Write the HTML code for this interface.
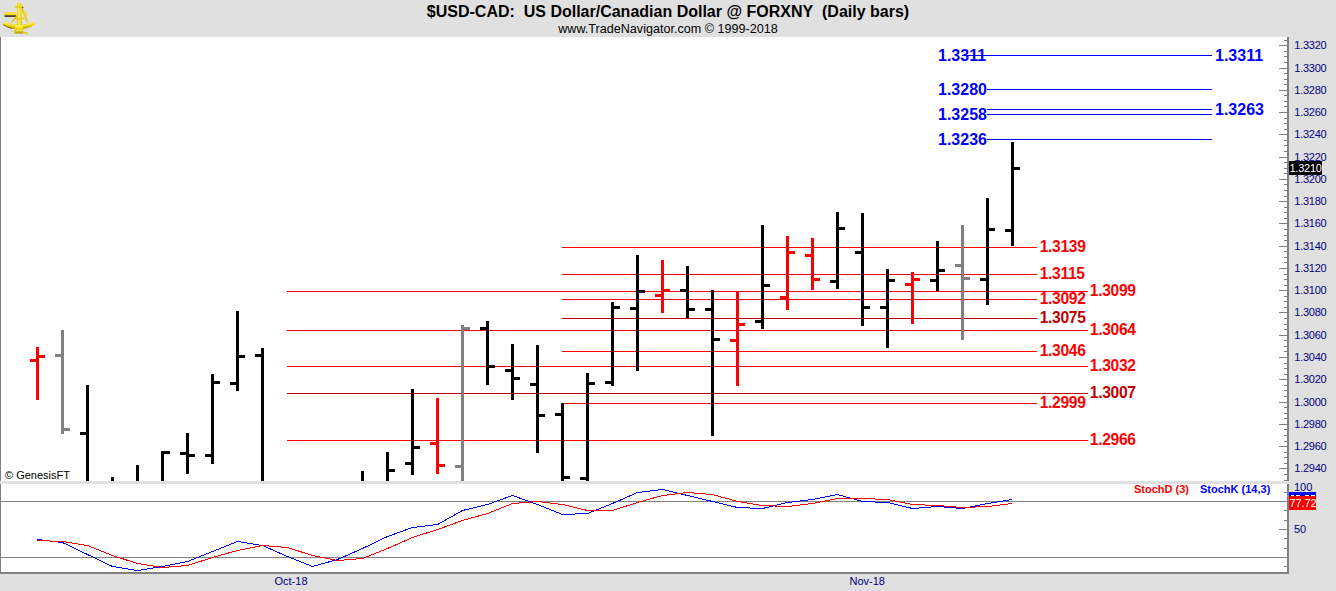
<!DOCTYPE html><html><head><meta charset="utf-8"><style>
html,body{margin:0;padding:0;background:#fff;width:1336px;height:591px;overflow:hidden}
svg{display:block}
text{font-family:"Liberation Sans",sans-serif}
</style></head><body>
<svg width="1336" height="591" viewBox="0 0 1336 591">
<rect x="0" y="0" width="1336" height="591" fill="#e0e0e0"/>
<rect x="0" y="37" width="1287" height="444" fill="#fff" shape-rendering="crispEdges"/>
<rect x="0" y="484" width="1287" height="88" fill="#fff" shape-rendering="crispEdges"/>
<g shape-rendering="crispEdges">
<rect x="0" y="37" width="1" height="444" fill="#808080"/>
<rect x="0" y="484" width="1" height="88" fill="#808080"/>
<rect x="1287" y="37" width="2" height="444" fill="#808080"/>
<rect x="1287" y="484" width="2" height="90" fill="#808080"/>
<rect x="0" y="572" width="1289" height="2" fill="#808080"/>
<rect x="1" y="501" width="1286" height="1" fill="#808080"/>
<rect x="1" y="557" width="1286" height="1" fill="#808080"/>
<rect x="1284" y="40" width="3" height="1" fill="#808080"/>
<rect x="1279" y="45" width="8" height="1" fill="#808080"/>
<rect x="1284" y="51" width="3" height="1" fill="#808080"/>
<rect x="1284" y="56" width="3" height="1" fill="#808080"/>
<rect x="1284" y="62" width="3" height="1" fill="#808080"/>
<rect x="1279" y="68" width="8" height="1" fill="#808080"/>
<rect x="1284" y="73" width="3" height="1" fill="#808080"/>
<rect x="1284" y="79" width="3" height="1" fill="#808080"/>
<rect x="1284" y="84" width="3" height="1" fill="#808080"/>
<rect x="1279" y="90" width="8" height="1" fill="#808080"/>
<rect x="1284" y="95" width="3" height="1" fill="#808080"/>
<rect x="1284" y="101" width="3" height="1" fill="#808080"/>
<rect x="1284" y="106" width="3" height="1" fill="#808080"/>
<rect x="1279" y="112" width="8" height="1" fill="#808080"/>
<rect x="1284" y="118" width="3" height="1" fill="#808080"/>
<rect x="1284" y="123" width="3" height="1" fill="#808080"/>
<rect x="1284" y="129" width="3" height="1" fill="#808080"/>
<rect x="1279" y="134" width="8" height="1" fill="#808080"/>
<rect x="1284" y="140" width="3" height="1" fill="#808080"/>
<rect x="1284" y="145" width="3" height="1" fill="#808080"/>
<rect x="1284" y="151" width="3" height="1" fill="#808080"/>
<rect x="1279" y="157" width="8" height="1" fill="#808080"/>
<rect x="1284" y="162" width="3" height="1" fill="#808080"/>
<rect x="1284" y="168" width="3" height="1" fill="#808080"/>
<rect x="1284" y="173" width="3" height="1" fill="#808080"/>
<rect x="1279" y="179" width="8" height="1" fill="#808080"/>
<rect x="1284" y="184" width="3" height="1" fill="#808080"/>
<rect x="1284" y="190" width="3" height="1" fill="#808080"/>
<rect x="1284" y="196" width="3" height="1" fill="#808080"/>
<rect x="1279" y="201" width="8" height="1" fill="#808080"/>
<rect x="1284" y="207" width="3" height="1" fill="#808080"/>
<rect x="1284" y="212" width="3" height="1" fill="#808080"/>
<rect x="1284" y="218" width="3" height="1" fill="#808080"/>
<rect x="1279" y="223" width="8" height="1" fill="#808080"/>
<rect x="1284" y="229" width="3" height="1" fill="#808080"/>
<rect x="1284" y="235" width="3" height="1" fill="#808080"/>
<rect x="1284" y="240" width="3" height="1" fill="#808080"/>
<rect x="1279" y="246" width="8" height="1" fill="#808080"/>
<rect x="1284" y="251" width="3" height="1" fill="#808080"/>
<rect x="1284" y="257" width="3" height="1" fill="#808080"/>
<rect x="1284" y="262" width="3" height="1" fill="#808080"/>
<rect x="1279" y="268" width="8" height="1" fill="#808080"/>
<rect x="1284" y="274" width="3" height="1" fill="#808080"/>
<rect x="1284" y="279" width="3" height="1" fill="#808080"/>
<rect x="1284" y="285" width="3" height="1" fill="#808080"/>
<rect x="1279" y="290" width="8" height="1" fill="#808080"/>
<rect x="1284" y="296" width="3" height="1" fill="#808080"/>
<rect x="1284" y="301" width="3" height="1" fill="#808080"/>
<rect x="1284" y="307" width="3" height="1" fill="#808080"/>
<rect x="1279" y="312" width="8" height="1" fill="#808080"/>
<rect x="1284" y="318" width="3" height="1" fill="#808080"/>
<rect x="1284" y="324" width="3" height="1" fill="#808080"/>
<rect x="1284" y="329" width="3" height="1" fill="#808080"/>
<rect x="1279" y="335" width="8" height="1" fill="#808080"/>
<rect x="1284" y="340" width="3" height="1" fill="#808080"/>
<rect x="1284" y="346" width="3" height="1" fill="#808080"/>
<rect x="1284" y="351" width="3" height="1" fill="#808080"/>
<rect x="1279" y="357" width="8" height="1" fill="#808080"/>
<rect x="1284" y="363" width="3" height="1" fill="#808080"/>
<rect x="1284" y="368" width="3" height="1" fill="#808080"/>
<rect x="1284" y="374" width="3" height="1" fill="#808080"/>
<rect x="1279" y="379" width="8" height="1" fill="#808080"/>
<rect x="1284" y="385" width="3" height="1" fill="#808080"/>
<rect x="1284" y="390" width="3" height="1" fill="#808080"/>
<rect x="1284" y="396" width="3" height="1" fill="#808080"/>
<rect x="1279" y="402" width="8" height="1" fill="#808080"/>
<rect x="1284" y="407" width="3" height="1" fill="#808080"/>
<rect x="1284" y="413" width="3" height="1" fill="#808080"/>
<rect x="1284" y="418" width="3" height="1" fill="#808080"/>
<rect x="1279" y="424" width="8" height="1" fill="#808080"/>
<rect x="1284" y="429" width="3" height="1" fill="#808080"/>
<rect x="1284" y="435" width="3" height="1" fill="#808080"/>
<rect x="1284" y="441" width="3" height="1" fill="#808080"/>
<rect x="1279" y="446" width="8" height="1" fill="#808080"/>
<rect x="1284" y="452" width="3" height="1" fill="#808080"/>
<rect x="1284" y="457" width="3" height="1" fill="#808080"/>
<rect x="1284" y="463" width="3" height="1" fill="#808080"/>
<rect x="1279" y="468" width="8" height="1" fill="#808080"/>
<rect x="1284" y="474" width="3" height="1" fill="#808080"/>
<rect x="1284" y="480" width="3" height="1" fill="#808080"/>
<rect x="1284" y="492" width="3" height="1" fill="#808080"/>
<rect x="1284" y="510" width="3" height="1" fill="#808080"/>
<rect x="1284" y="520" width="3" height="1" fill="#808080"/>
<rect x="1284" y="538" width="3" height="1" fill="#808080"/>
<rect x="1284" y="548" width="3" height="1" fill="#808080"/>
<rect x="1284" y="566" width="3" height="1" fill="#808080"/>
<rect x="1279" y="529" width="8" height="1" fill="#808080"/>
<rect x="562" y="247" width="475" height="1" fill="#ff0000"/>
<rect x="562" y="274" width="475" height="1" fill="#ff0000"/>
<rect x="562" y="299" width="475" height="1" fill="#ff0000"/>
<rect x="562" y="318" width="475" height="1" fill="#c00000"/>
<rect x="562" y="351" width="475" height="1" fill="#ff0000"/>
<rect x="562" y="403" width="475" height="1" fill="#ff0000"/>
<rect x="287" y="291" width="801" height="1" fill="#ff0000"/>
<rect x="287" y="330" width="801" height="1" fill="#ff0000"/>
<rect x="287" y="366" width="801" height="1" fill="#ff0000"/>
<rect x="287" y="393" width="801" height="1" fill="#c00000"/>
<rect x="287" y="440" width="801" height="1" fill="#ff0000"/>
<rect x="962" y="55" width="250" height="1" fill="#0000ff"/>
<rect x="987" y="89" width="225" height="1" fill="#0000ff"/>
<rect x="987" y="109" width="225" height="1" fill="#0000ff"/>
<rect x="987" y="114" width="225" height="1" fill="#0000ff"/>
<rect x="987" y="139" width="225" height="1" fill="#0000ff"/>
<rect x="36" y="347" width="3" height="53" fill="#ff0000"/>
<rect x="30" y="359" width="6" height="3" fill="#ff0000"/>
<rect x="39" y="355" width="6" height="3" fill="#ff0000"/>
<rect x="61" y="330" width="3" height="104" fill="#808080"/>
<rect x="55" y="354" width="6" height="3" fill="#808080"/>
<rect x="64" y="428" width="6" height="3" fill="#808080"/>
<rect x="86" y="385" width="3" height="96" fill="#000000"/>
<rect x="80" y="432" width="6" height="3" fill="#000000"/>
<rect x="111" y="477" width="3" height="4" fill="#000000"/>
<rect x="136" y="465" width="3" height="16" fill="#000000"/>
<rect x="161" y="451" width="3" height="30" fill="#000000"/>
<rect x="164" y="451" width="6" height="3" fill="#000000"/>
<rect x="186" y="433" width="3" height="41" fill="#000000"/>
<rect x="180" y="452" width="6" height="3" fill="#000000"/>
<rect x="189" y="454" width="6" height="3" fill="#000000"/>
<rect x="211" y="374" width="3" height="90" fill="#000000"/>
<rect x="205" y="454" width="6" height="3" fill="#000000"/>
<rect x="214" y="381" width="6" height="3" fill="#000000"/>
<rect x="236" y="311" width="3" height="80" fill="#000000"/>
<rect x="230" y="382" width="6" height="3" fill="#000000"/>
<rect x="239" y="355" width="6" height="3" fill="#000000"/>
<rect x="261" y="348" width="3" height="133" fill="#000000"/>
<rect x="255" y="354" width="6" height="3" fill="#000000"/>
<rect x="361" y="471" width="3" height="10" fill="#000000"/>
<rect x="386" y="452" width="3" height="29" fill="#000000"/>
<rect x="389" y="469" width="6" height="3" fill="#000000"/>
<rect x="411" y="389" width="3" height="86" fill="#000000"/>
<rect x="405" y="462" width="6" height="3" fill="#000000"/>
<rect x="414" y="446" width="6" height="3" fill="#000000"/>
<rect x="436" y="398" width="3" height="76" fill="#ff0000"/>
<rect x="430" y="442" width="6" height="3" fill="#ff0000"/>
<rect x="439" y="464" width="6" height="3" fill="#ff0000"/>
<rect x="461" y="325" width="3" height="156" fill="#808080"/>
<rect x="455" y="465" width="6" height="3" fill="#808080"/>
<rect x="464" y="327" width="6" height="3" fill="#808080"/>
<rect x="486" y="321" width="3" height="64" fill="#000000"/>
<rect x="480" y="327" width="6" height="3" fill="#000000"/>
<rect x="489" y="365" width="6" height="3" fill="#000000"/>
<rect x="511" y="344" width="3" height="56" fill="#000000"/>
<rect x="505" y="369" width="6" height="3" fill="#000000"/>
<rect x="514" y="377" width="6" height="3" fill="#000000"/>
<rect x="536" y="345" width="3" height="108" fill="#000000"/>
<rect x="530" y="383" width="6" height="3" fill="#000000"/>
<rect x="539" y="414" width="6" height="3" fill="#000000"/>
<rect x="561" y="403" width="3" height="78" fill="#000000"/>
<rect x="555" y="413" width="6" height="3" fill="#000000"/>
<rect x="564" y="476" width="6" height="3" fill="#000000"/>
<rect x="586" y="373" width="3" height="108" fill="#000000"/>
<rect x="580" y="477" width="6" height="3" fill="#000000"/>
<rect x="589" y="382" width="6" height="3" fill="#000000"/>
<rect x="611" y="302" width="3" height="84" fill="#000000"/>
<rect x="605" y="381" width="6" height="3" fill="#000000"/>
<rect x="614" y="306" width="6" height="3" fill="#000000"/>
<rect x="636" y="255" width="3" height="116" fill="#000000"/>
<rect x="630" y="307" width="6" height="3" fill="#000000"/>
<rect x="639" y="290" width="6" height="3" fill="#000000"/>
<rect x="661" y="260" width="3" height="53" fill="#ff0000"/>
<rect x="655" y="294" width="6" height="3" fill="#ff0000"/>
<rect x="664" y="289" width="6" height="3" fill="#ff0000"/>
<rect x="686" y="266" width="3" height="52" fill="#000000"/>
<rect x="680" y="289" width="6" height="3" fill="#000000"/>
<rect x="689" y="308" width="6" height="3" fill="#000000"/>
<rect x="711" y="290" width="3" height="146" fill="#000000"/>
<rect x="705" y="308" width="6" height="3" fill="#000000"/>
<rect x="714" y="338" width="6" height="3" fill="#000000"/>
<rect x="736" y="291" width="3" height="95" fill="#ff0000"/>
<rect x="730" y="339" width="6" height="3" fill="#ff0000"/>
<rect x="739" y="323" width="6" height="3" fill="#ff0000"/>
<rect x="761" y="225" width="3" height="104" fill="#000000"/>
<rect x="755" y="320" width="6" height="3" fill="#000000"/>
<rect x="764" y="284" width="6" height="3" fill="#000000"/>
<rect x="786" y="236" width="3" height="74" fill="#ff0000"/>
<rect x="780" y="296" width="6" height="3" fill="#ff0000"/>
<rect x="789" y="251" width="6" height="3" fill="#ff0000"/>
<rect x="811" y="238" width="3" height="52" fill="#ff0000"/>
<rect x="805" y="254" width="6" height="3" fill="#ff0000"/>
<rect x="814" y="278" width="6" height="3" fill="#ff0000"/>
<rect x="836" y="212" width="3" height="77" fill="#000000"/>
<rect x="830" y="280" width="6" height="3" fill="#000000"/>
<rect x="839" y="227" width="6" height="3" fill="#000000"/>
<rect x="861" y="213" width="3" height="113" fill="#000000"/>
<rect x="855" y="251" width="6" height="3" fill="#000000"/>
<rect x="864" y="306" width="6" height="3" fill="#000000"/>
<rect x="886" y="269" width="3" height="79" fill="#000000"/>
<rect x="880" y="306" width="6" height="3" fill="#000000"/>
<rect x="889" y="279" width="6" height="3" fill="#000000"/>
<rect x="911" y="272" width="3" height="52" fill="#ff0000"/>
<rect x="905" y="283" width="6" height="3" fill="#ff0000"/>
<rect x="914" y="278" width="6" height="3" fill="#ff0000"/>
<rect x="936" y="241" width="3" height="50" fill="#000000"/>
<rect x="930" y="279" width="6" height="3" fill="#000000"/>
<rect x="939" y="269" width="6" height="3" fill="#000000"/>
<rect x="961" y="225" width="3" height="115" fill="#808080"/>
<rect x="955" y="264" width="6" height="3" fill="#808080"/>
<rect x="964" y="277" width="6" height="3" fill="#808080"/>
<rect x="986" y="198" width="3" height="107" fill="#000000"/>
<rect x="980" y="278" width="6" height="3" fill="#000000"/>
<rect x="989" y="228" width="6" height="3" fill="#000000"/>
<rect x="1011" y="142" width="3" height="104" fill="#000000"/>
<rect x="1005" y="229" width="6" height="3" fill="#000000"/>
<rect x="1014" y="167" width="6" height="3" fill="#000000"/>
</g>
<polyline points="37.5,539.5 62.5,542.5 87.5,554.5 112.5,566.5 137.5,570.5 162.5,566.5 187.5,561.5 212.5,551.5 237.5,541.5 262.5,545.5 287.5,556.5 312.5,566.5 337.5,559.5 362.5,548.5 387.5,536.5 412.5,527.5 437.5,524.5 462.5,510.5 487.5,504.5 512.5,495.5 537.5,504.5 562.5,514.5 587.5,513.5 612.5,503.5 637.5,492.5 662.5,489.5 687.5,495.5 712.5,501.5 737.5,507.5 762.5,508.5 787.5,502.5 812.5,499.5 837.5,494.5 862.5,501.5 887.5,502.5 912.5,508.5 937.5,506.5 962.5,508.5 987.5,503.5 1012.5,499.5" fill="none" stroke="#0000ff" stroke-width="1" shape-rendering="crispEdges"/>
<polyline points="37.5,540.5 62.5,541.5 87.5,545.5 112.5,555.5 137.5,563.5 162.5,567.5 187.5,565.5 212.5,557.5 237.5,550.5 262.5,545.5 287.5,547.5 312.5,555.5 337.5,560.5 362.5,558.5 387.5,548.5 412.5,537.5 437.5,529.5 462.5,520.5 487.5,513.5 512.5,503.5 537.5,501.5 562.5,504.5 587.5,510.5 612.5,510.5 637.5,502.5 662.5,495.5 687.5,492.5 712.5,494.5 737.5,501.5 762.5,505.5 787.5,506.5 812.5,503.5 837.5,498.5 862.5,498.5 887.5,499.5 912.5,504.5 937.5,505.5 962.5,507.5 987.5,506.5 1012.5,503.5" fill="none" stroke="#ff0000" stroke-width="1" shape-rendering="crispEdges"/>
<text x="1294.3" y="49" font-size="11" letter-spacing="-0.25" fill="#000080">1.3320</text>
<text x="1294.3" y="72" font-size="11" letter-spacing="-0.25" fill="#000080">1.3300</text>
<text x="1294.3" y="94" font-size="11" letter-spacing="-0.25" fill="#000080">1.3280</text>
<text x="1294.3" y="116" font-size="11" letter-spacing="-0.25" fill="#000080">1.3260</text>
<text x="1294.3" y="138" font-size="11" letter-spacing="-0.25" fill="#000080">1.3240</text>
<text x="1294.3" y="161" font-size="11" letter-spacing="-0.25" fill="#000080">1.3220</text>
<text x="1294.3" y="183" font-size="11" letter-spacing="-0.25" fill="#000080">1.3200</text>
<text x="1294.3" y="205" font-size="11" letter-spacing="-0.25" fill="#000080">1.3180</text>
<text x="1294.3" y="227" font-size="11" letter-spacing="-0.25" fill="#000080">1.3160</text>
<text x="1294.3" y="250" font-size="11" letter-spacing="-0.25" fill="#000080">1.3140</text>
<text x="1294.3" y="272" font-size="11" letter-spacing="-0.25" fill="#000080">1.3120</text>
<text x="1294.3" y="294" font-size="11" letter-spacing="-0.25" fill="#000080">1.3100</text>
<text x="1294.3" y="316" font-size="11" letter-spacing="-0.25" fill="#000080">1.3080</text>
<text x="1294.3" y="339" font-size="11" letter-spacing="-0.25" fill="#000080">1.3060</text>
<text x="1294.3" y="361" font-size="11" letter-spacing="-0.25" fill="#000080">1.3040</text>
<text x="1294.3" y="383" font-size="11" letter-spacing="-0.25" fill="#000080">1.3020</text>
<text x="1294.3" y="406" font-size="11" letter-spacing="-0.25" fill="#000080">1.3000</text>
<text x="1294.3" y="428" font-size="11" letter-spacing="-0.25" fill="#000080">1.2980</text>
<text x="1294.3" y="450" font-size="11" letter-spacing="-0.25" fill="#000080">1.2960</text>
<text x="1294.3" y="472" font-size="11" letter-spacing="-0.25" fill="#000080">1.2940</text>
<rect x="1289" y="161" width="33" height="14" fill="#000" shape-rendering="crispEdges"/>
<text x="1289.5" y="172" font-size="11" letter-spacing="-0.25" fill="#fff">1.3210</text>
<text x="1294" y="491" font-size="11" fill="#000080">100</text>
<text x="1294" y="533" font-size="11" fill="#000080">50</text>
<rect x="1289" y="492" width="27" height="4" fill="#0000ff" shape-rendering="crispEdges"/>
<g fill="#fff" shape-rendering="crispEdges"><rect x="1291" y="495" width="3" height="1"/><rect x="1296" y="495" width="4" height="1"/><rect x="1305" y="495" width="4" height="1"/><rect x="1311" y="495" width="4" height="1"/></g>
<rect x="1289" y="496" width="27" height="14" fill="#ff0000" shape-rendering="crispEdges"/>
<text x="1289.5" y="507" font-size="11" letter-spacing="-0.1" fill="#fff">77.72</text>
<text x="1039.7" y="252" font-size="15.6" letter-spacing="-0.3" font-weight="bold" fill="#ff0000">1.3139</text>
<text x="1039.7" y="279" font-size="15.6" letter-spacing="-0.3" font-weight="bold" fill="#ff0000">1.3115</text>
<text x="1039.7" y="304" font-size="15.6" letter-spacing="-0.3" font-weight="bold" fill="#ff0000">1.3092</text>
<text x="1039.7" y="323" font-size="15.6" letter-spacing="-0.3" font-weight="bold" fill="#c00000">1.3075</text>
<text x="1039.7" y="356" font-size="15.6" letter-spacing="-0.3" font-weight="bold" fill="#ff0000">1.3046</text>
<text x="1039.7" y="408" font-size="15.6" letter-spacing="-0.3" font-weight="bold" fill="#ff0000">1.2999</text>
<text x="1089.8" y="296" font-size="15.6" letter-spacing="-0.3" font-weight="bold" fill="#ff0000">1.3099</text>
<text x="1089.8" y="335" font-size="15.6" letter-spacing="-0.3" font-weight="bold" fill="#ff0000">1.3064</text>
<text x="1089.8" y="371" font-size="15.6" letter-spacing="-0.3" font-weight="bold" fill="#ff0000">1.3032</text>
<text x="1089.8" y="398" font-size="15.6" letter-spacing="-0.3" font-weight="bold" fill="#c00000">1.3007</text>
<text x="1089.8" y="445" font-size="15.6" letter-spacing="-0.3" font-weight="bold" fill="#ff0000">1.2966</text>
<text x="938" y="61" font-size="16" font-weight="bold" fill="#0000ff">1.3311</text>
<text x="938" y="95" font-size="16" font-weight="bold" fill="#0000ff">1.3280</text>
<text x="938" y="120" font-size="16" font-weight="bold" fill="#0000ff">1.3258</text>
<text x="938" y="145" font-size="16" font-weight="bold" fill="#0000ff">1.3236</text>
<text x="1215" y="61" font-size="16" font-weight="bold" fill="#0000ff">1.3311</text>
<text x="1215" y="115" font-size="16" font-weight="bold" fill="#0000ff">1.3263</text>
<text x="1134" y="493" font-size="11" font-weight="bold" fill="#ff0000">StochD (3)</text>
<text x="1200" y="493" font-size="11" font-weight="bold" fill="#0000ff">StochK (14,3)</text>
<text x="5" y="479" font-size="11" fill="#000">© GenesisFT</text>
<text x="274.5" y="585" font-size="11" fill="#000080">Oct-18</text>
<text x="849.5" y="585" font-size="11" fill="#000080">Nov-18</text>
<text x="668" y="17" font-size="16" font-weight="bold" fill="#000" text-anchor="middle" xml:space="preserve">$USD-CAD:&#160; US Dollar/Canadian Dollar @ FORXNY&#160; (Daily bars)</text>
<text x="668" y="33" font-size="12.6" fill="#000" text-anchor="middle">www.TradeNavigator.com © 1999-2018</text>
<defs><linearGradient id="gv" x1="0" y1="0" x2="0" y2="1"><stop offset="0" stop-color="#fff27a"/><stop offset="0.45" stop-color="#f2d600"/><stop offset="1" stop-color="#b89a00"/></linearGradient>
<linearGradient id="gh" x1="0" y1="0" x2="1" y2="0"><stop offset="0" stop-color="#d8b800"/><stop offset="0.4" stop-color="#fff06a"/><stop offset="1" stop-color="#e0c000"/></linearGradient></defs>
<g id="logo">
<path d="M2.8,24.8 Q19,34.5 35.2,24.4 L33.6,21.2 Q19,28 4.6,21.6 Z" fill="url(#gv)"/><path d="M5.5,23.2 Q19,29.6 32.8,22.8" fill="none" stroke="#fff4a0" stroke-width="0.8" opacity="0.8"/>
<path d="M3.2,24.6 Q8,27.6 12,28.6" fill="none" stroke="#4a3a00" stroke-width="0.9" opacity="0.7"/>
<path d="M4.4,11.9 L15.6,11.9 L15.6,15.6 L4.4,15.6 Q3.8,13.8 4.4,11.9 Z" fill="#ecd200"/><rect x="5" y="12.6" width="10" height="1.2" fill="#fff4a0" opacity="0.8"/>
<path d="M4.5,15.2 L16,15.2 L16,16.9 L4.7,16.9 Z" fill="#2a2200" opacity="0.85"/>
<path d="M11,22 L16.8,14.8 L18,15.8 L12.4,22.8 Z" fill="#e6c800"/>
<path d="M21.2,8.6 L22.8,8.2 L28.2,21.4 L26.6,22 Z" fill="#e6c800"/>
<path d="M23.6,12.2 L26,11.4 L27.6,17.6 L25.2,18.2 Z" fill="#f4da20"/>
<path d="M17.1,7.2 L21.6,7.2 L22,26.2 L16.8,26.2 Z" fill="url(#gh)"/>
<path d="M15.2,5.9 L23,5.9 L23.2,7.8 L15,7.8 Z" fill="#e8cc00"/>
<path d="M22.2,6.6 L23.6,7.6 L22.6,8.6 Z" fill="#222"/>
<ellipse cx="19.2" cy="4.6" rx="2.8" ry="1.8" fill="#f6de30"/>
<path d="M15,25.2 L22.8,25.2 L23.6,33.4 L14.4,33.4 Z" fill="url(#gv)"/>
<rect x="15.6" y="30" width="7" height="1.2" fill="#fff8b0" opacity="0.7"/>
<path d="M23.6,32.2 L27.4,32 L27.6,34.9 L26.6,34.9 L26.4,33.4 L23.6,33.6 Z" fill="#e8c800"/>
<path d="M15,18.4 Q19,20.2 24.6,17.8" fill="none" stroke="#e6c800" stroke-width="1.1"/>
</g>
</svg></body></html>
